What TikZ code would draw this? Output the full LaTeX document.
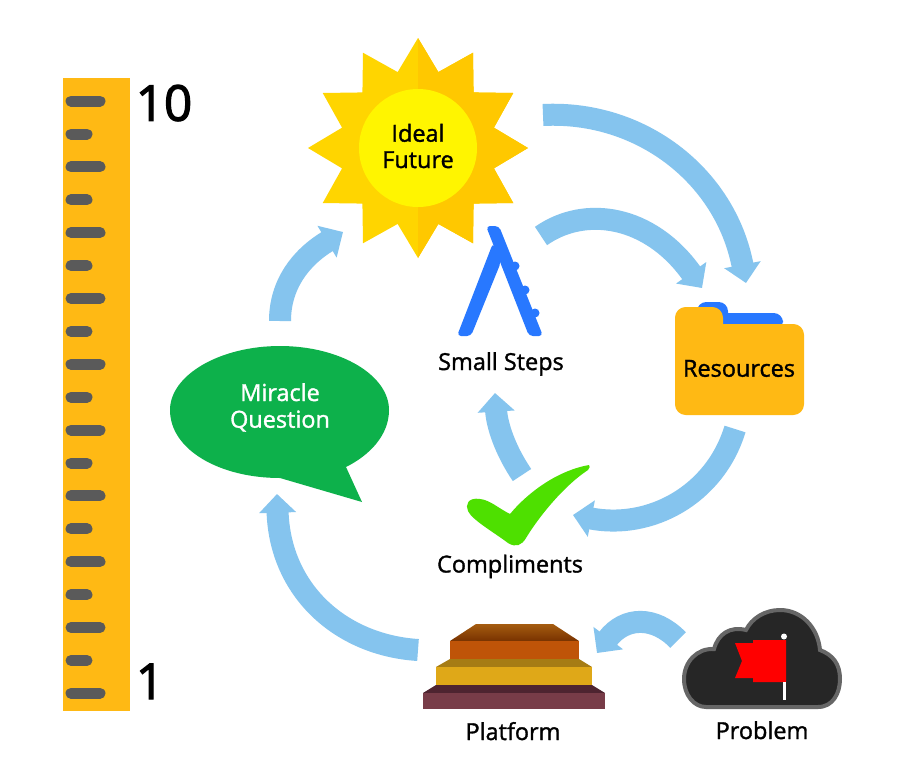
\documentclass[tikz,border=0pt]{standalone}
\usepackage{fontspec}
\newfontfamily\labelfont[FakeBold=1.4]{Open Sans}
\newfontfamily\numberfont[FakeBold=2.4]{Open Sans}
\usetikzlibrary{arrows.meta,positioning,shapes.geometric,calc}
\definecolor{rulerorange}{HTML}{FFB914}
\definecolor{tickgrey}{HTML}{5A5A5A}
\definecolor{flowblue}{HTML}{85C4EE}
\definecolor{stepblue}{HTML}{2878FF}
\definecolor{bubblegreen}{HTML}{0DB14B}
\definecolor{checkgreen}{HTML}{4EE000}
\begin{document}
\begin{tikzpicture}[
            x=0.75pt, y=-0.75pt,
            label/.style={font=\labelfont\fontsize{17.6}{20}\selectfont, text=black, inner sep=0pt, anchor=base},
            number/.style={label, font=\numberfont\fontsize{37}{40}\selectfont},
            flow/.style={draw=flowblue, line width=16.5pt, -{Triangle[length=14pt,width=27pt,fill=flowblue]}},
            tick/.style={draw=tickgrey, line width=8.25pt, line cap=round},
            leg/.style={fill=stepblue, rounded corners=3pt}
        ]
        \useasboundingbox (0,0) rectangle (900,776);
        \fill[white] (0,0) rectangle (900,776);

        % ruler
        \node[fill=rulerorange, minimum width=50.25pt, minimum height=474.75pt, inner sep=0pt] (ruler) at (96.5,394.5) {};
        \foreach \k in {0,...,9} \draw[tick] (71,{101+65.8*\k}) -- (100,{101+65.8*\k});
        \foreach \k in {0,...,8} \draw[tick] (71,{134+65.8*\k}) -- (87,{134+65.8*\k});
        \node[number] (top) at (164,120.7) {10};
        \node[number] (bottom) at (150,699) {1};

        % sun
        \fill[shift={(418,148)}, fill={rgb,255:red,255;green,213;blue,0}]
            plot[samples at={0,15,...,345}] (\x:{mod(\x,30)==0 ? 110 : 78.6}) -- cycle;
        \begin{scope}
            \clip (418,30) rectangle (540,270);
            \fill[shift={(418,148)}, fill={rgb,255:red,255;green,200;blue,0}]
                plot[samples at={0,15,...,345}] (\x:{mod(\x,30)==0 ? 110 : 78.6}) -- cycle;
        \end{scope}
        \node[circle, fill={rgb,255:red,255;green,245;blue,0}, minimum size=88.5pt, inner sep=0pt] (sun) at (418,148) {};
        \node[label] (ideal) at (418,141.7) {Ideal};
        \node[label] (future) at (418,168) {Future};

        % small steps
        \fill[leg] (486,226) -- (499,226) -- (543,336) -- (529,336) -- cycle;
        \fill[leg] (457,336) -- (471,336) -- (501,262) -- (493,243) -- cycle;
        \fill[stepblue] (515,266) circle (4.5) (525,290) circle (4.5) (535,313) circle (4.5);
        \node[label] (steps) at (501,370) {Small Steps};

        % resources
        \fill[stepblue, rounded corners=7pt] (697,302) rectangle (728,330);
        \fill[stepblue, rounded corners=7pt] (697,313) rectangle (783,330);
        \fill[rulerorange, rounded corners=8pt] (675,307) rectangle (723,345);
        \fill[rulerorange, rounded corners=8pt] (675,324) rectangle (804,415);
        \node[label] (resources) at (739,376.7) {Resources};

        % miracle question
        \fill[bubblegreen] (170,410) .. controls (170,375) and (220,346) .. (280,346)
            .. controls (340,346) and (389,375) .. (389,410)
            .. controls (389,435) and (370,455) .. (346,467)
            -- (362,502) -- (280,478)
            .. controls (220,478) and (170,450) .. (170,410) -- cycle;
        \node[label, text=white] (miracle) at (280,401) {Miracle};
        \node[label, text=white] (question) at (280,427.7) {Question};

        % compliments
        \fill[checkgreen] (589,465) .. controls (560,470) and (530,490) .. (510,514)
            .. controls (498,508) and (490,500) .. (480,499)
            .. controls (468,497) and (465,505) .. (468,511)
            .. controls (472,520) and (495,533) .. (508,543)
            .. controls (516,548) and (522,545) .. (526,538)
            .. controls (540,515) and (565,485) .. (588,470)
            .. controls (590,468) and (590,466) .. (589,465) -- cycle;
        \node[label] (compliments) at (510,572.5) {Compliments};

        % platform
        \shade[top color={rgb,255:red,165;green,92;blue,16}, bottom color={rgb,255:red,120;green,50;blue,0}] (476,624) -- (553,624) -- (579,641) -- (450,641) -- cycle;
        \fill[fill={rgb,255:red,191;green,84;blue,8}] (450,641) rectangle (579,659);
        \fill[fill={rgb,255:red,166;green,124;blue,20}] (450,659) -- (579,659) -- (592,667) -- (436,667) -- cycle;
        \fill[fill={rgb,255:red,223;green,168;blue,24}] (436,667) rectangle (592,685);
        \fill[fill={rgb,255:red,78;green,36;blue,48}] (436,685) -- (592,685) -- (605,693) -- (423,693) -- cycle;
        \fill[fill={rgb,255:red,120;green,60;blue,72}] (423,693) rectangle (605,709);
        \node[label] (platform) at (513,740) {Platform};

        % problem
        \draw[draw=black!60, fill=black!85, line width=3pt] (706,707) -- (818,707)
            .. controls (833,707) and (840,693) .. (840,679)
            .. controls (840,664) and (833,655) .. (820,650)
            .. controls (818,628) and (802,610) .. (780,610)
            .. controls (765,610) and (752,618) .. (746,630)
            .. controls (730,626) and (718,634) .. (714,649)
            .. controls (697,648) and (684,662) .. (684,679)
            .. controls (684,695) and (694,707) .. (706,707) -- cycle;
        \fill[red] (735,643) -- (753,643) -- (753,640) -- (786,640) -- (786,682) -- (753,682) -- (753,678) -- (735,678) -- (742,661) -- cycle;
        \draw[white, line width=2.25pt] (784,682) -- (784,700);
        \fill[white] (784,636.5) circle (3);
        \node[label] (problem) at (762,739) {Problem};

        % arrows
        \coordinate (sunout) at (543,115);
        \coordinate (folderin) at (746,283);
        \coordinate (stepsout) at (541,236);
        \coordinate (folderside) at (702,288);
        \coordinate (folderout) at (735,429);
        \coordinate (checkin) at (573,515);
        \coordinate (checkout) at (522,475);
        \coordinate (stepsin) at (495,393);
        \coordinate (cloudout) at (678,640);
        \coordinate (stairsin) at (597,653);
        \coordinate (stairsout) at (418,650);
        \coordinate (bubblein) at (277,494);
        \coordinate (bubbleout) at (280,321);
        \coordinate (sunin) at (343,232);

        \draw[flow] (sunout) .. controls (640,110) and (725,175) .. (folderin);
        \draw[flow] (stepsout) .. controls (585,205) and (650,215) .. (folderside);
        \draw[flow] (folderout) .. controls (715,495) and (650,530) .. (checkin);
        \draw[flow] (checkout) .. controls (505,450) and (497,425) .. (stepsin);
        \draw[flow] (cloudout) .. controls (655,616) and (625,616) .. (stairsin);
        \draw[flow] (stairsout) .. controls (340,645) and (280,590) .. (bubblein);
        \draw[flow] (bubbleout) .. controls (280,285) and (300,258) .. (sunin);
\end{tikzpicture}
\end{document}
